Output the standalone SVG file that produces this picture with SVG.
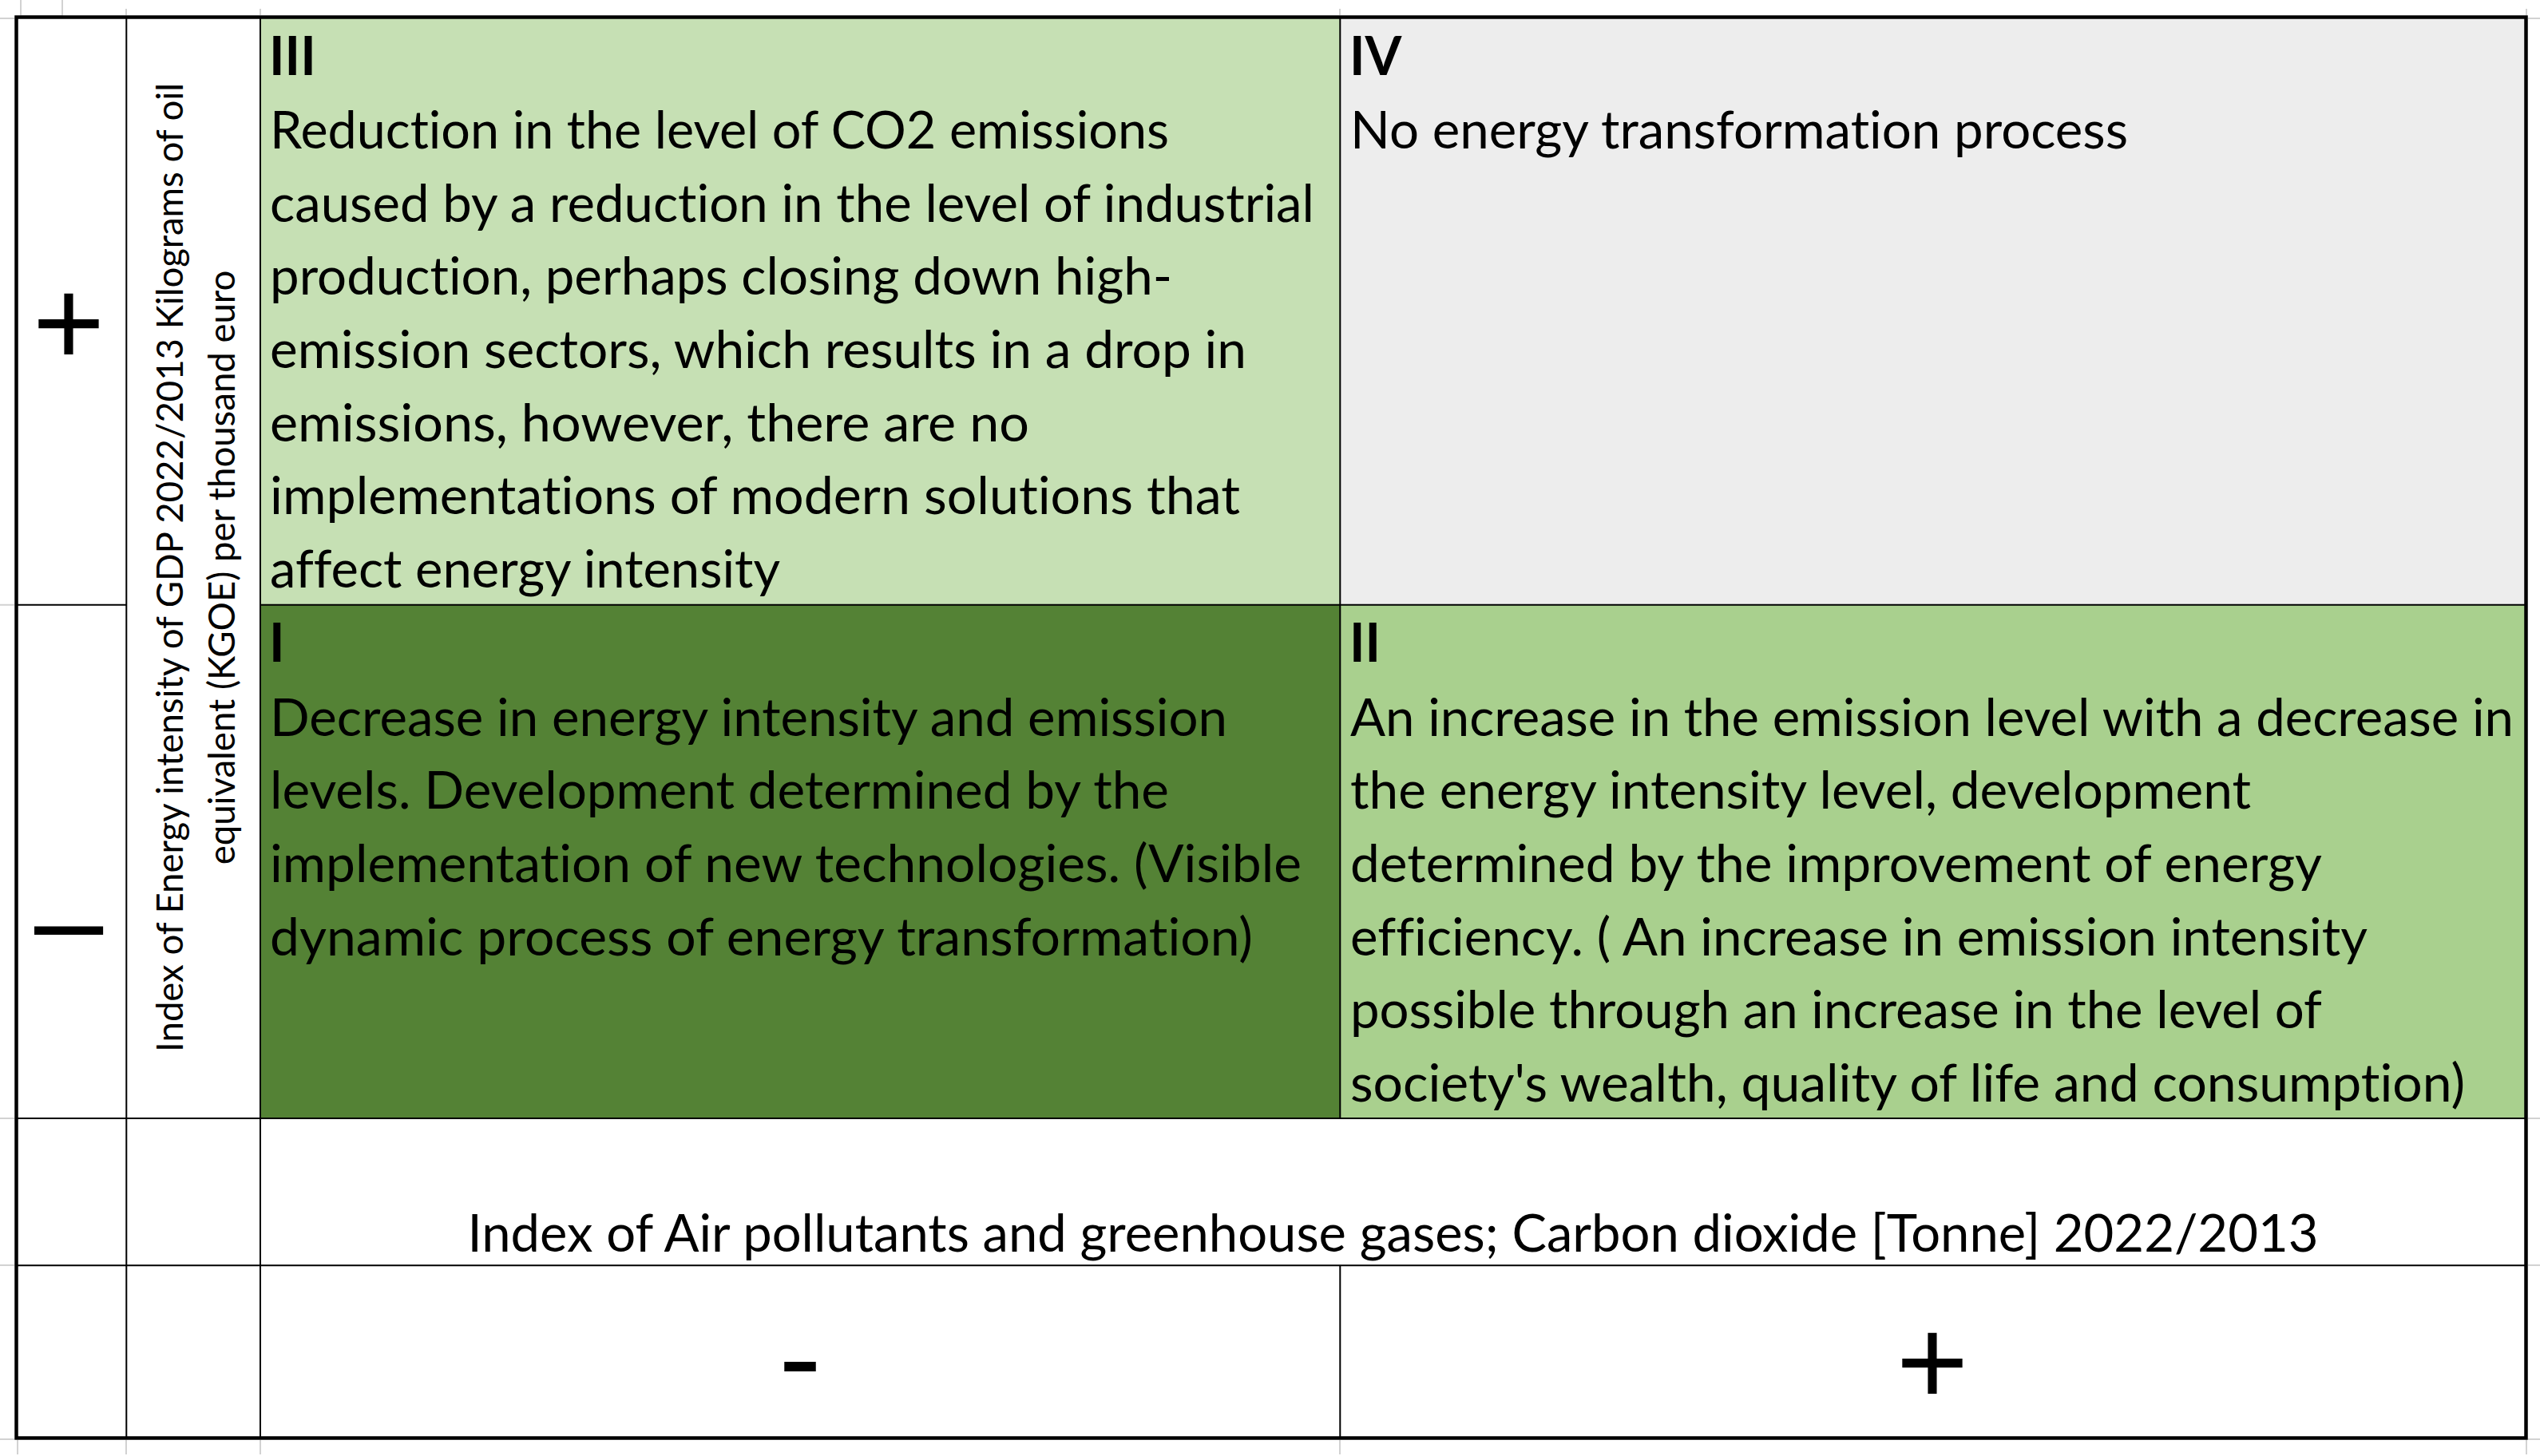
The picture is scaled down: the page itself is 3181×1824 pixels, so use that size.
<svg xmlns="http://www.w3.org/2000/svg" width="3181" height="1824" viewBox="0 0 3181 1824">
<style>
text{font-variant-ligatures:none}
.body{font-family:Lato,"Liberation Sans",sans-serif;font-size:65.5px;fill:#000}
.hdr{font-family:Lato,"Liberation Sans",sans-serif;font-size:66px;font-weight:bold;fill:#000}
.axis{font-family:Lato,"Liberation Sans",sans-serif;font-size:45.5px;fill:#000;text-anchor:middle}
.sym{font-family:"Liberation Sans",sans-serif;font-size:155px;fill:#000;text-anchor:middle}
.hy{font-family:Lato,"Liberation Sans",sans-serif;font-size:160px;fill:#000;text-anchor:middle}
.thin{stroke:#000;stroke-width:2;fill:none}
.faint{stroke:#d2d2d2;stroke-width:2;fill:none}
</style>
<rect width="3181" height="1824" fill="#fff"/>
<g id="gridlines-faint" class="faint">
<rect x="26" y="-2" width="52" height="22"/>
<path d="M0 23H18M3166 23H3181M158 11V19M326 11V19M1678 11V19M3164 11V19M0 757.7H18M0 1401H18M0 1585H18M0 1803H18M3166 1401H3181M3166 1585H3181M3166 1803H3181M22 1804V1822M158 1804V1822M326 1804V1822M1678 1804V1822M3164 1804V1822"/>
</g>
<g id="cell-III">
<rect x="326" y="22" width="1352" height="736" fill="#C6E0B4"/>
<text class="hdr" x="337" y="94">III</text>
<text class="body" x="338" y="186" textLength="1126" lengthAdjust="spacingAndGlyphs">Reduction in the level of CO2 emissions</text>
<text class="body" x="338" y="277.7" textLength="1308" lengthAdjust="spacingAndGlyphs">caused by a reduction in the level of industrial</text>
<text class="body" x="338" y="369.3" textLength="1130" lengthAdjust="spacingAndGlyphs">production, perhaps closing down high-</text>
<text class="body" x="338" y="461" textLength="1223" lengthAdjust="spacingAndGlyphs">emission sectors, which results in a drop in</text>
<text class="body" x="338" y="552.7" textLength="951" lengthAdjust="spacingAndGlyphs">emissions, however, there are no</text>
<text class="body" x="338" y="644.3" textLength="1215" lengthAdjust="spacingAndGlyphs">implementations of modern solutions that</text>
<text class="body" x="338" y="736" textLength="639" lengthAdjust="spacingAndGlyphs">affect energy intensity</text>
</g>
<g id="cell-IV">
<rect x="1678" y="22" width="1485" height="736" fill="#EDEDED"/>
<text class="hdr" x="1690" y="94">IV</text>
<text class="body" x="1691" y="186" textLength="974" lengthAdjust="spacingAndGlyphs">No energy transformation process</text>
</g>
<g id="cell-I">
<rect x="326" y="758" width="1352" height="643" fill="#548235"/>
<text class="hdr" x="337" y="829">I</text>
<text class="body" x="338" y="921.7" textLength="1199" lengthAdjust="spacingAndGlyphs">Decrease in energy intensity and emission</text>
<text class="body" x="338" y="1013.3" textLength="1126" lengthAdjust="spacingAndGlyphs">levels. Development determined by the</text>
<text class="body" x="338" y="1105" textLength="1292" lengthAdjust="spacingAndGlyphs">implementation of new technologies. (Visible</text>
<text class="body" x="338" y="1196.7" textLength="1231" lengthAdjust="spacingAndGlyphs">dynamic process of energy transformation)</text>
</g>
<g id="cell-II">
<rect x="1678" y="758" width="1485" height="643" fill="#A9D08E"/>
<text class="hdr" x="1690" y="829">II</text>
<text class="body" x="1691" y="921.7" textLength="1457" lengthAdjust="spacingAndGlyphs">An increase in the emission level with a decrease in</text>
<text class="body" x="1691" y="1013.3" textLength="1128" lengthAdjust="spacingAndGlyphs">the energy intensity level, development</text>
<text class="body" x="1691" y="1105" textLength="1217" lengthAdjust="spacingAndGlyphs">determined by the improvement of energy</text>
<text class="body" x="1691" y="1196.7" textLength="1274" lengthAdjust="spacingAndGlyphs">efficiency. ( An increase in emission intensity</text>
<text class="body" x="1691" y="1288.3" textLength="1217" lengthAdjust="spacingAndGlyphs">possible through an increase in the level of</text>
<text class="body" x="1691" y="1380" textLength="1396" lengthAdjust="spacingAndGlyphs">society's wealth, quality of life and consumption)</text>
</g>
<g id="axis-y-label" transform="translate(229,711) rotate(-90)">
<text class="axis" x="0" y="0">Index of Energy intensity of GDP 2022/2013 Kilograms of oil</text>
<text class="axis" x="0" y="65">equivalent (KGOE) per thousand euro</text>
</g>
<g id="axis-y-plus"><text class="sym" x="86" y="458">+</text></g>
<g id="axis-y-minus"><text class="sym" x="86" y="1205">–</text></g>
<g id="axis-x-label"><text class="body" x="1744.5" y="1568" text-anchor="middle" textLength="2318" lengthAdjust="spacingAndGlyphs">Index of Air pollutants and greenhouse gases; Carbon dioxide [Tonne] 2022/2013</text></g>
<g id="axis-x-minus"><text class="hy" x="1002" y="1760">-</text></g>
<g id="axis-x-plus"><text class="sym" x="2420" y="1760">+</text></g>
<g id="connectors" class="thin">
<path d="M158.3 22V1801M326 22V1801M1678.3 22V1401M1678.3 1585.3V1801M20 757.7H158.3M326 757.7H3163M20 1401H3163M20 1585.3H3163"/>
</g>
<rect id="outer-border" x="20.5" y="21.5" width="3143" height="1780" fill="none" stroke="#000" stroke-width="4.5"/>
</svg>
